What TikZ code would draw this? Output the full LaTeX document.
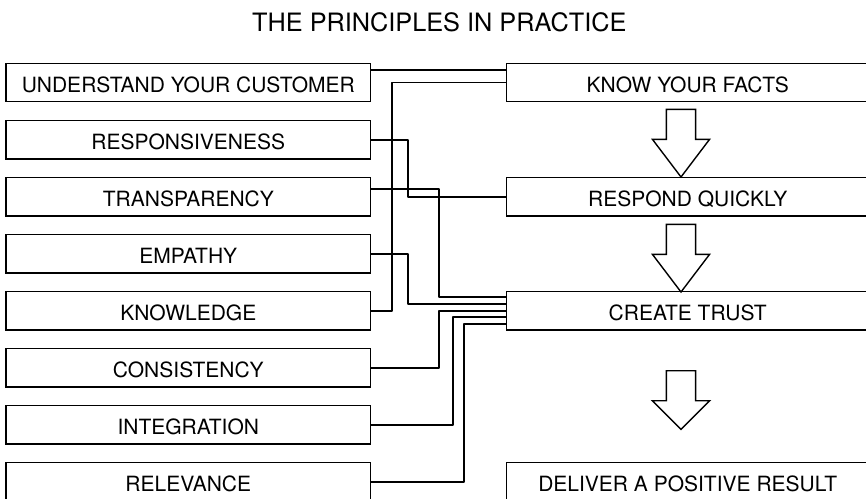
\documentclass[tikz,border=0pt]{standalone}
\usepackage{fontspec}
\setmainfont{TeX Gyre Heros}
\usetikzlibrary{positioning}

\begin{document}
\begin{tikzpicture}[x=1pt,y=-1pt,node distance=57.06pt,on grid,
  box/.style={draw,line width=1.5pt,minimum height=38.4pt,inner sep=0pt,
    text height=20pt,text depth=0pt,font=\fontsize{21}{25}\selectfont},
  leftbox/.style={box,minimum width=364.7pt},
  rightbox/.style={box,minimum width=362pt},
  link/.style={line width=1.9pt,line join=round},
  hollow/.style={draw,fill=white,line width=1.4pt,line join=miter}]
  \useasboundingbox (0,0) rectangle (866,498);

  \node (title) [anchor=base,font=\fontsize{25.3}{30}\selectfont] at (439.3,31.7) {THE PRINCIPLES IN PRACTICE};

  \node[leftbox]  (und)    at (188.3,82.5)       {UNDERSTAND YOUR CUSTOMER};
  \node[leftbox]  (resp)   [below =of und]       {RESPONSIVENESS};
  \node[leftbox]  (transp) [below =of resp]      {TRANSPARENCY};
  \node[leftbox]  (emp)    [below =of transp]    {EMPATHY};
  \node[leftbox]  (knowl)  [below =of emp]       {KNOWLEDGE};
  \node[leftbox]  (cons)   [below =of knowl]     {CONSISTENCY};
  \node[leftbox]  (integ)  [below =of cons]      {INTEGRATION};
  \node[leftbox]  (relev)  [below =of integ]     {RELEVANCE};

  \node[rightbox] (know)   [right =499.4pt of und]   {KNOW YOUR FACTS};
  \node[rightbox] (quick)  [below =114.1pt of know]  {RESPOND QUICKLY};
  \node[rightbox] (trust)  [below =114.1pt of quick] {CREATE TRUST};
  \node[rightbox] (result) [below =171.2pt of trust] {DELIVER A POSITIVE RESULT};

  % hollow arrows down the right column
  \draw[hollow] (666.4,109.3) -- (666.4,139.3) -- (652.4,139.3) -- (681,177) -- (709.6,139.3) -- (695.6,139.3) -- (695.6,109.3) -- cycle;
  \draw[hollow] (666.4,224.3) -- (666.4,254.3) -- (652.4,254.3) -- (681,292) -- (709.6,254.3) -- (695.6,254.3) -- (695.6,224.3) -- cycle;
  \draw[hollow] (666.4,370.7) -- (666.4,400.7) -- (652.4,400.7) -- (681,429.3) -- (709.6,400.7) -- (695.6,400.7) -- (695.6,370.7) -- cycle;

  \draw[link] ([yshift=12.5pt]und.east) -- ([yshift=12.5pt]know.west);
  \draw[link] (knowl.east) -- ++(20.3,0) |- (know.west);
  \draw[link] (resp.east) -- ++(36.3,0) |- (quick.west);
  \draw[link] ([yshift=7.6pt]transp.east) -- ++(67.3,0) |- ([yshift=13.8pt]trust.west);
  \draw[link] (emp.east) -- ++(36.3,0) |- ([yshift=6.8pt]trust.west);
  \draw[link] (cons.east) -- ++(67.3,0) |- (trust.west);
  \draw[link] (integ.east) -- ++(81.3,0) |- ([yshift=-6.5pt]trust.west);
  \draw[link] (relev.east) -- ++(92.3,0) |- ([yshift=-13.2pt]trust.west);
\end{tikzpicture}
\end{document}
